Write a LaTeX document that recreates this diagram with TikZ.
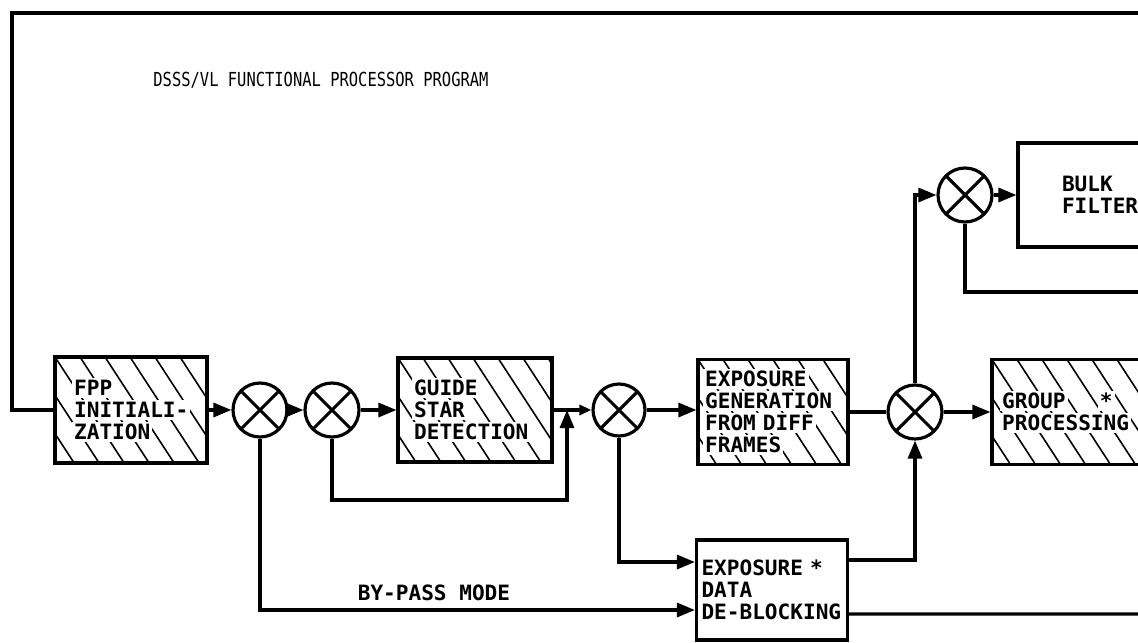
\documentclass[tikz,border=0pt]{standalone}
\usepackage{fontspec}
\setmonofont{DejaVu Sans Mono}
\usepackage{xcolor}
\usepackage{tikz}
\usetikzlibrary{arrows.meta,positioning}

\newcommand{\wl}[1]{{\setlength{\fboxsep}{1.2pt}\colorbox{white}{#1}}}

\begin{document}
\begin{tikzpicture}[
  x=0.02cm, y=-0.02cm,
  font=\ttfamily\bfseries\fontsize{12}{12.5}\selectfont,
  line width=1.8pt,
  blk/.style={draw, align=left, inner ysep=2pt},
  hblk/.style={blk, path picture={
      \foreach \k in {-6,...,10}
        \draw[line width=0.9pt] ([xshift=\k*0.5cm]path picture bounding box.north west) -- ++(1.5cm,-2.3cm);}},
  sumj/.style={circle, draw, minimum size=1.08cm, inner sep=0pt, path picture={
      \draw (path picture bounding box.north west) -- (path picture bounding box.south east)
            (path picture bounding box.north east) -- (path picture bounding box.south west);}},
  arr/.style={-{Triangle[length=3.6mm,width=2.8mm]}},
  sarr/.style={-{Triangle[length=2.4mm,width=2mm]}},
  ttl/.style={font=\ttfamily\mdseries\fontsize{11}{13}\selectfont}
]
\useasboundingbox (0,0) rectangle (1138,642);
\clip (0,0) rectangle (1138,642);

\node[ttl, anchor=west] (title) at (146,80) {\scalebox{0.8}[1]{DSSS/VL FUNCTIONAL PROCESSOR PROGRAM}};

% main row
\node[hblk, minimum height=2.12cm, text width=2.36cm, inner xsep=0.34cm] (fpp) at (131,410) {\wl{FPP}\\\wl{INITIALI-}\\\wl{ZATION}};
\node[sumj] (s1) at (260,410) {};
\node[sumj] (s2) at (332,410) {};
\node[hblk, minimum height=2.08cm, text width=2.52cm, inner xsep=0.28cm] (gsd) at (475,410) {\wl{GUIDE}\\\wl{STAR}\\\wl{DETECTION}};
\node[sumj, minimum size=1.04cm] (s3) at (619,410) {};
\node[hblk, minimum height=2.1cm, text width=2.8cm, inner xsep=0.1cm] (expg) at (773,412) {\wl{EXPOSURE}\\\wl{GENERATION}\\\wl{FROM DIFF}\\\wl{FRAMES}};
\node[sumj] (s4) at (915,412) {};
\node[hblk, minimum height=2.1cm, text width=4.08cm, inner xsep=0.16cm] (grp) at (1102,412) {\wl{GROUP}\hspace{0.6cm}\wl{*}\\\wl{PROCESSING}};

% upper branch
\node[sumj] (s5) at (965,195) {};
\node[blk, minimum height=2.08cm, text width=2.64cm, inner xsep=0.88cm] (bulk) at (1128,195) {BULK\\FILTER};

% lower branch
\node[blk, minimum height=2.0cm, text width=2.82cm, inner xsep=0.1cm] (deblk) at (772,590) {EXPOSURE *\\DATA\\DE-BLOCKING};

\coordinate (topR) at (1150,13);
\coordinate (topL) at (12,13);
\coordinate (fbk) at (567,410);
\coordinate (fbl) at (567,500);
\coordinate (rgtB) at (1150,614);
\coordinate (rgtC) at (1150,292);

\draw (topR) -- (topL) |- (fpp.west);
\draw[arr] (fpp) -- (s1);
\draw[arr] (s1) -- (s2);
\draw[arr] (s2) -- (gsd);
\draw[sarr] (gsd) -- (s3);
\draw[arr] (s3) -- (expg.west |- s3);
\draw (expg.east |- s4) -- (s4);
\draw[arr] (s4) -- (grp.west |- s4);
\draw[arr] (s2.south) |- (fbl) -- (fbk);
\draw[arr] (s3.south) |- ([yshift=0.56cm]deblk.west);
\draw[arr] (s1.south) |- ([yshift=-0.4cm]deblk.west) node[pos=0.7, above=1pt] (byp) {BY-PASS MODE};
\draw[arr] ([yshift=0.6cm]deblk.east) -| (s4.south);
\draw ([yshift=-0.48cm]deblk.east) -- (rgtB);
\draw[arr] (s4.north) |- (s5.west);
\draw[arr] (s5) -- (bulk);
\draw (s5.south) |- (rgtC);
\end{tikzpicture}
\end{document}
